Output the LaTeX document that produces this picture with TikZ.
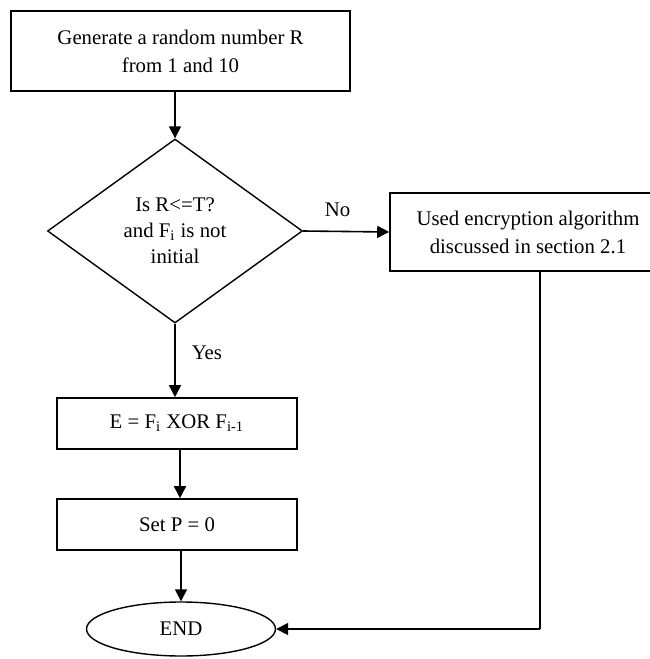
\documentclass[tikz,border=0pt]{standalone}
\usepackage{fontspec}
\setmainfont{Liberation Serif}
\usetikzlibrary{shapes.geometric,arrows.meta}
\tikzset{
  box/.style={draw, line width=0.8pt, rectangle, inner sep=0pt, align=center,
    font=\fontsize{10.4pt}{14pt}\selectfont},
  decision/.style={draw, line width=0.7pt, diamond, shape aspect=1.4, inner sep=0pt,
    align=center, minimum width=127.5pt, minimum height=92pt,
    font=\fontsize{10.4pt}{13pt}\selectfont},
  terminal/.style={draw, line width=0.7pt, ellipse, inner sep=0pt,
    minimum width=94.5pt, minimum height=27pt, font=\fontsize{10.4pt}{12pt}\selectfont},
  flow/.style={line width=0.8pt, -{Triangle[length=6pt,width=6pt]}},
  link/.style={line width=0.8pt},
  lbl/.style={font=\fontsize{10.4pt}{12pt}\selectfont, inner sep=0pt}
}
\begin{document}
\begin{tikzpicture}[x=0.5pt,y=-0.5pt]
  \useasboundingbox (0,0) rectangle (649,659);
  % process boxes
  \node[box, minimum width=169.5pt, minimum height=40pt] (gen) at (180.5,51)
    {Generate a random number R\\from 1 and 10};
  \node[decision] (dia) at (175,231)
    {Is R<=T?\\and F\textsubscript{i} is not\\initial};
  \node[box, minimum width=138pt, minimum height=39pt] (enc) at (528,232)
    {Used encryption algorithm\\discussed in section 2.1};
  \node[box, minimum width=120pt, minimum height=25.5pt] (xor) at (177,423.5)
    {E = F\textsubscript{i} XOR F\textsubscript{i-1}};
  \node[box, minimum width=120pt, minimum height=25.5pt] (setp) at (177,524.5)
    {Set P = 0};
  \node[terminal] (stop) at (181,629) {END};
  \coordinate (turn) at (540,629);
  \coordinate (mid) at (180,0);
  \coordinate (low) at (181,550);
  % connectors
  \draw[flow] (gen.south -| dia.north) -- (dia.north);
  \draw[flow] (dia.east) -- (enc.west)
    node[lbl, pos=0.4, above=7pt] (no) {No};
  \draw[flow] (dia.south) -- (xor.north -| dia.south)
    node[lbl, pos=0.4, right=8pt] (yes) {Yes};
  \draw[flow] (xor.south -| mid) -- (setp.north -| mid);
  \draw[flow] (low) -- (stop.north);
  \draw[link] (turn |- enc.south) -- (turn);
  \draw[flow] (turn) -- (stop.east);
\end{tikzpicture}
\end{document}
